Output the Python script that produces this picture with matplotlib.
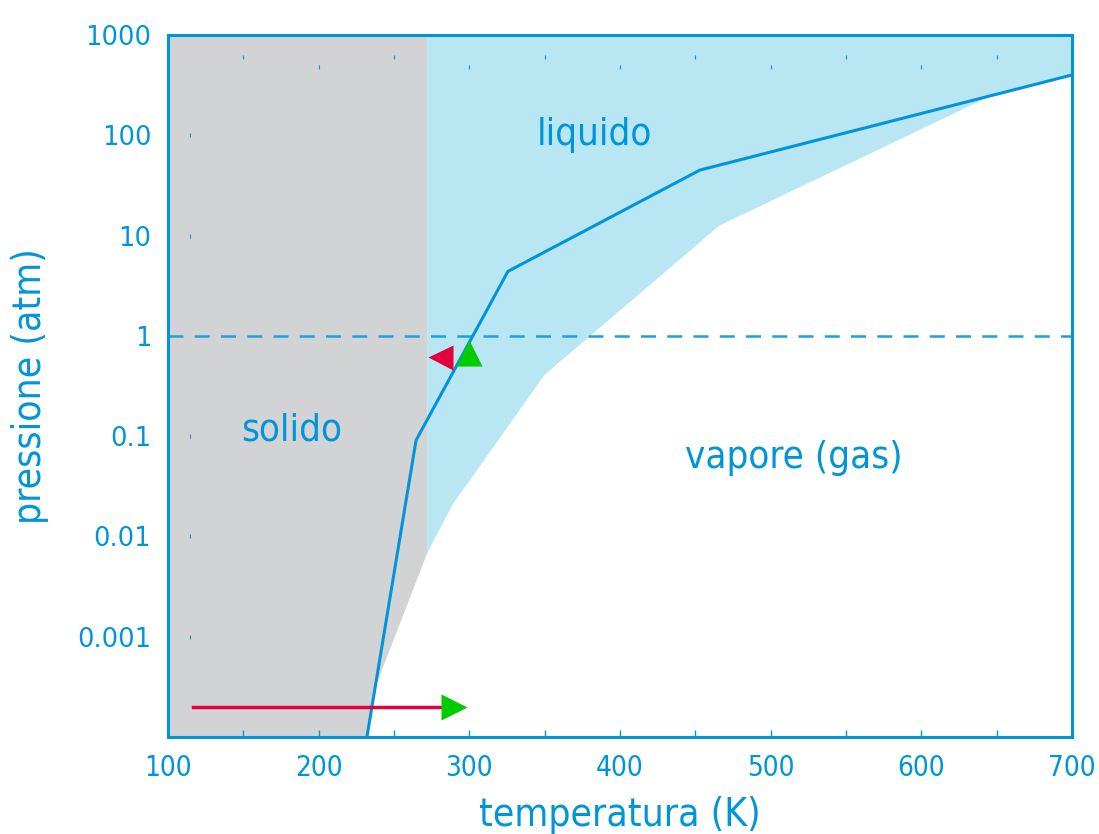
import numpy as np
import matplotlib
matplotlib.use('Agg')
import matplotlib.pyplot as plt

# boundary lines (temperature K, pressure atm)
line_T = [232, 264.6, 325.6, 453, 700]
line_P = [1e-4, 0.091, 4.4, 45, 400]

solid_T = [100, 232, 237, 272, 272, 100]
solid_P = [1e-4, 1e-4, 3e-4, 0.0068, 1000, 1000]

liquid_T = [272, 272, 289, 350, 466, 647, 700, 700]
liquid_P = [1000, 0.0068, 0.021, 0.41, 12.6, 251, 400, 1000]

# markers
red_tri = (280.5, 0.61)
green_tri = (299.7, 0.67)
arrow_T = [116.6, 282]
arrow_P = 2e-4
green_right = (290, 2e-4)

xticks = [100, 200, 300, 400, 500, 600, 700]
yticks = [0.001, 0.01, 0.1, 1, 10, 100, 1000]
ylabels = ['0.001', '0.01', '0.1', '1', '10', '100', '1000']

# stray dots
dot_top_T = [150, 200, 250, 300, 350, 400, 450, 500, 550, 600, 650]
dot_top_P = [600, 480, 600, 480, 600, 480, 600, 480, 600, 480, 600]
dot_left_P = [100, 10, 0.1, 0.01, 0.001]

blue = '#0095d9'
lightblue = '#b8e6f3'
gray = '#d2d3d5'

font = dict(family='DejaVu Sans', stretch='condensed')

fig = plt.figure(figsize=(10.99, 8.34), dpi=100)
ax = fig.add_axes([0.1529, 0.1163, 0.8226, 0.8417])
ax.set_yscale('log')
ax.set_xlim(100, 700)
ax.set_ylim(1e-4, 1000)

ax.fill(solid_T, solid_P, color=gray, lw=0, zorder=1)
ax.fill(liquid_T, liquid_P, color=lightblue, lw=0, zorder=1)
ax.plot(line_T, line_P, color=blue, lw=2.2, zorder=3)
ax.axhline(1, color='#1ba1e2', lw=1.8, ls=(0, (6, 4.5)), zorder=2)

ax.plot(dot_top_T, dot_top_P, ls='none', marker='|', ms=2.5, color=blue, mew=0.8, zorder=2)
ax.plot([114.6] * len(dot_left_P), dot_left_P, ls='none', marker='|', ms=2.5, color=blue, mew=0.8, zorder=2)

ax.plot(arrow_T, [arrow_P, arrow_P], color='#e2003d', lw=2.5, zorder=4)
ax.plot(*green_right, marker='>', ms=19, color='#00cc00', mec='none', zorder=5)
ax.plot(*red_tri, marker='<', ms=18, color='#e2003d', mec='none', zorder=5)
ax.plot(*green_tri, marker='^', ms=19, color='#00cc00', mec='none', zorder=5)

ax.text(383, 100, 'liquido', color=blue, fontsize=27.5, ha='center', va='center', **font)
ax.text(182, 0.115, 'solido', color=blue, fontsize=27.5, ha='center', va='center', **font)
ax.text(515, 0.06, 'vapore (gas)', color=blue, fontsize=27.5, ha='center', va='center', **font)

for s in ax.spines.values():
    s.set_color(blue)
    s.set_linewidth(2.2)

ax.set_xticks(xticks)
ax.set_xticks(np.arange(150, 700, 100), minor=True)
ax.set_xticklabels([str(t) for t in xticks], color=blue, fontsize=20, **font)
ax.tick_params(axis='x', which='both', direction='in', length=5, width=1, color=blue, pad=12)
ax.set_yticks(yticks)
ax.set_yticklabels(ylabels, color=blue, fontsize=18.5)
ax.yaxis.set_minor_locator(matplotlib.ticker.NullLocator())
ax.tick_params(axis='y', which='both', length=0, pad=12)

ax.set_xlabel('temperatura (K)', color=blue, fontsize=28, labelpad=10, **font)
ax.set_ylabel('pressione (atm)', color=blue, fontsize=28, labelpad=20, **font)

fig.savefig('out.png', dpi=100)
